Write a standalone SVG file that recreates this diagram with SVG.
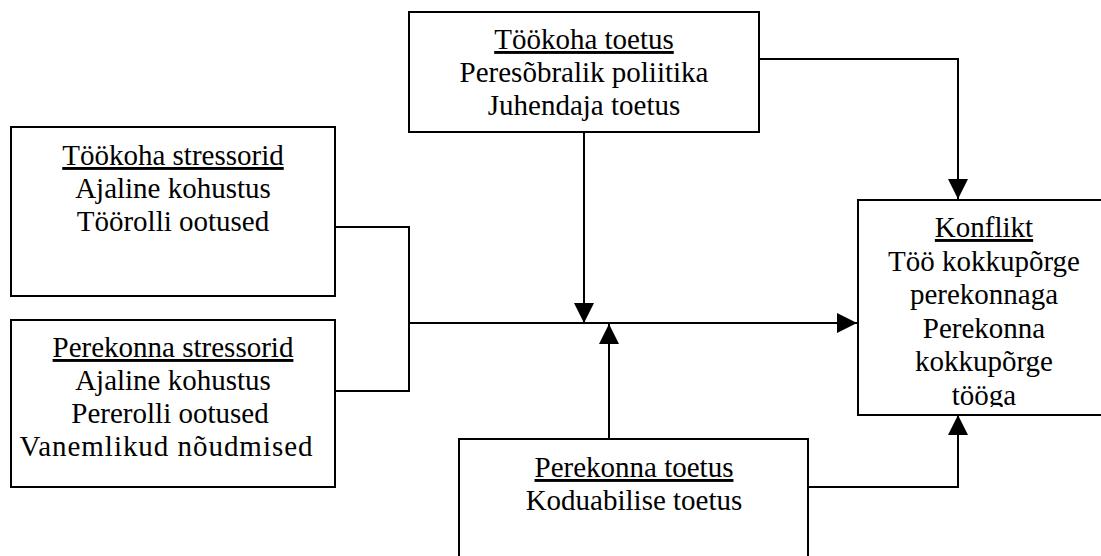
<svg xmlns="http://www.w3.org/2000/svg" width="1101" height="556" viewBox="0 0 1101 556">
  <defs>
    <marker id="arrow" markerUnits="userSpaceOnUse" markerWidth="20" markerHeight="20" viewBox="0 0 20 20" refX="20" refY="10" orient="auto">
      <path d="M0,0 L20,10 L0,20 Z" fill="#000"/>
    </marker>
    <clipPath id="clipKonflikt">
      <rect x="859" y="201" width="250" height="206"/>
    </clipPath>
    <style>
      .box { fill: #fff; stroke: #000; stroke-width: 2; }
      .conn { fill: none; stroke: #000; stroke-width: 2; }
      .t { font-family: "Liberation Serif", "Times New Roman", serif; font-size: 29px; fill: #000; text-anchor: middle; }
      .h { text-decoration: underline; }
    </style>
  </defs>
  <rect width="1101" height="556" fill="#fff"/>

  <g id="connectors">
    <path class="conn" d="M759,59 H958 V199" marker-end="url(#arrow)"/>
    <path class="conn" d="M335,227 H409 V391 H335"/>
    <path class="conn" d="M409,323 H857" marker-end="url(#arrow)"/>
    <path class="conn" d="M584,132 V323" marker-end="url(#arrow)"/>
    <path class="conn" d="M609,439 V324" marker-end="url(#arrow)"/>
    <path class="conn" d="M808,487 H958 V415" marker-end="url(#arrow)"/>
  </g>

  <g id="tookoha-toetus">
    <rect class="box" x="409" y="12" width="350" height="120"/>
    <text class="t" x="584" y="49"><tspan class="h">Töökoha toetus</tspan></text>
    <text class="t" x="584" y="82">Peresõbralik poliitika</text>
    <text class="t" x="584" y="115">Juhendaja toetus</text>
  </g>

  <g id="tookoha-stressorid">
    <rect class="box" x="11" y="127" width="324" height="169"/>
    <text class="t" x="173" y="165"><tspan class="h">Töökoha stressorid</tspan></text>
    <text class="t" x="173" y="198">Ajaline kohustus</text>
    <text class="t" x="173" y="231">Töörolli ootused</text>
  </g>

  <g id="perekonna-stressorid">
    <rect class="box" x="11" y="320" width="324" height="167"/>
    <text class="t" x="173" y="357"><tspan class="h">Perekonna stressorid</tspan></text>
    <text class="t" x="173" y="390">Ajaline kohustus</text>
    <text class="t" x="170" y="423">Pererolli ootused</text>
    <text class="t" x="166" y="456" textLength="293" lengthAdjust="spacing">Vanemlikud nõudmised</text>
  </g>

  <g id="konflikt">
    <rect class="box" x="858" y="200" width="260" height="215"/>
    <g clip-path="url(#clipKonflikt)">
      <text class="t" x="984" y="237"><tspan class="h">Konflikt</tspan></text>
      <text class="t" x="984" y="270.5">Töö kokkupõrge</text>
      <text class="t" x="984" y="304">perekonnaga</text>
      <text class="t" x="984" y="337.5">Perekonna</text>
      <text class="t" x="984" y="371">kokkupõrge</text>
      <text class="t" x="984" y="405">tööga</text>
    </g>
  </g>

  <g id="perekonna-toetus">
    <rect class="box" x="459" y="439" width="349" height="140"/>
    <text class="t" x="634" y="477"><tspan class="h">Perekonna toetus</tspan></text>
    <text class="t" x="634" y="510">Koduabilise toetus</text>
  </g>
</svg>
